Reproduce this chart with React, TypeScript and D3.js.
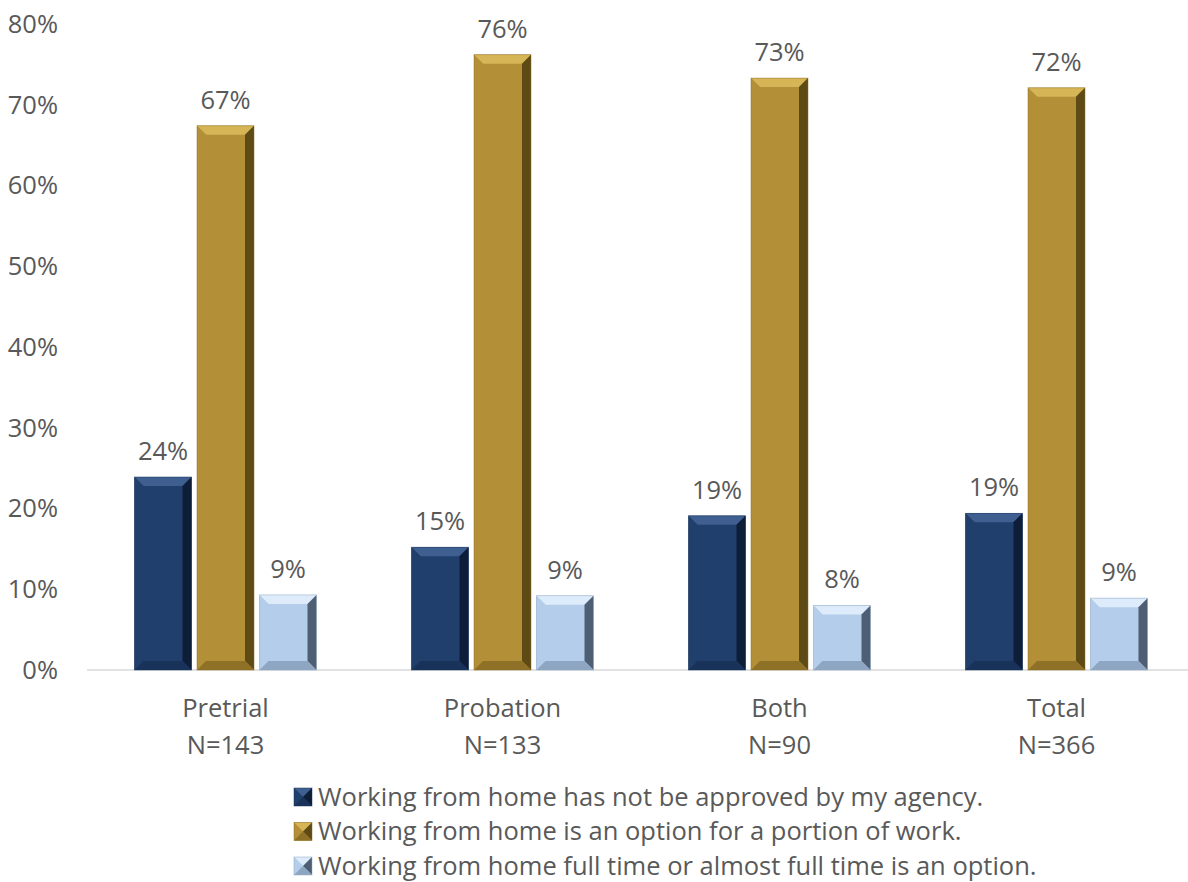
import React from "react";
import * as d3 from "d3";

const categories = ["Pretrial", "Probation", "Both", "Total"];
const nLabels = ["N=143", "N=133", "N=90", "N=366"];
const seriesNames = [
  "Working from home has not be approved by my agency.",
  "Working from home is an option for a portion of work.",
  "Working from home full time or almost full time is an option.",
];
const notApproved = [0.239, 0.152, 0.191, 0.194];
const portion = [0.674, 0.762, 0.733, 0.721];
const fullTime = [0.093, 0.092, 0.080, 0.089];
const yTicks = [0, 0.1, 0.2, 0.3, 0.4, 0.5, 0.6, 0.7, 0.8];

const colors = ["#213F6C", "#B38F37", "#B3CDEB"];
const lights = ["#3E5F8F", "#D6B556", "#DDEBFA"];
const darks = ["#0E1E38", "#5E4A15", "#4E5F73"];
const mids = ["#18325A", "#8E7027", "#8FA6C2"];

const W = 1188;
const H = 882;
const FONT = "'Open Sans', 'Noto Sans', sans-serif";
const FS = 25.5;

function BevelBar({ x, y, w, h, i }: { x: number; y: number; w: number; h: number; i: number }) {
  const b = Math.min(9, h / 2, w / 2);
  const x2 = x + w, y2 = y + h;
  return (
    <g>
      <rect x={x} y={y} width={w} height={h} fill={colors[i]} />
      <polygon points={`${x},${y} ${x2},${y} ${x2 - b},${y + b} ${x + b},${y + b}`} fill={lights[i]} />
      <polygon points={`${x},${y} ${x + b},${y + b} ${x + b},${y2 - b} ${x},${y2}`} fill={colors[i]} opacity={0.9} />
      <polygon points={`${x2},${y} ${x2},${y2} ${x2 - b},${y2 - b} ${x2 - b},${y + b}`} fill={darks[i]} />
      <polygon points={`${x},${y2} ${x2},${y2} ${x2 - b},${y2 - b} ${x + b},${y2 - b}`} fill={mids[i]} />
      <rect x={x} y={y} width={w} height={h} fill="none" stroke={mids[i]} strokeWidth={0.8} opacity={0.6} />
    </g>
  );
}

export default function App() {
  const x0 = d3.scaleBand().domain(categories).range([87, 1195]).paddingInner(0).paddingOuter(0);
  const y = d3.scaleLinear().domain([0, 0.8]).range([670, 24]);
  const series = [notApproved, portion, fullTime];
  const barW = 57;
  const step = 62.5;

  return (
    <svg width={W} height={H} style={{ position: "absolute", left: 0, top: 0 }} fontFamily={FONT}>
      <rect width={W} height={H} fill="#fff" />
      {yTicks.map((t) => (
        <text key={t} x={58} y={y(t)} dy="0.35em" textAnchor="end" fontSize={FS} fill="#595959">
          {d3.format(".0%")(t)}
        </text>
      ))}
      <line x1={87} x2={1195} y1={y(0)} y2={y(0)} stroke="#D9D9D9" strokeWidth={1.5} />
      {categories.map((c, ci) => {
        const cx = (x0(c) as number) + x0.bandwidth() / 2;
        return (
          <g key={c}>
            {series.map((s, si) => {
              const bx = cx + (si - 1) * step - barW / 2;
              const by = y(s[ci]);
              return (
                <g key={si}>
                  <BevelBar x={bx} y={by} w={barW} h={y(0) - by} i={si} />
                  <text x={bx + barW / 2} y={by - 17} textAnchor="middle" fontSize={FS} fill="#595959">
                    {d3.format(".0%")(s[ci])}
                  </text>
                </g>
              );
            })}
            <text x={cx} y={708} dy="0.35em" textAnchor="middle" fontSize={FS} fill="#595959">{c}</text>
            <text x={cx} y={745} dy="0.35em" textAnchor="middle" fontSize={FS} fill="#595959">{nLabels[ci]}</text>
          </g>
        );
      })}
      {seriesNames.map((n, i) => (
        <g key={n}>
          <BevelBar x={294} y={788 + i * 34.5} w={18} h={18} i={i} />
          <text x={318} y={797 + i * 34.5} dy="0.35em" fontSize={FS} fill="#595959">{n}</text>
        </g>
      ))}
    </svg>
  );
}
